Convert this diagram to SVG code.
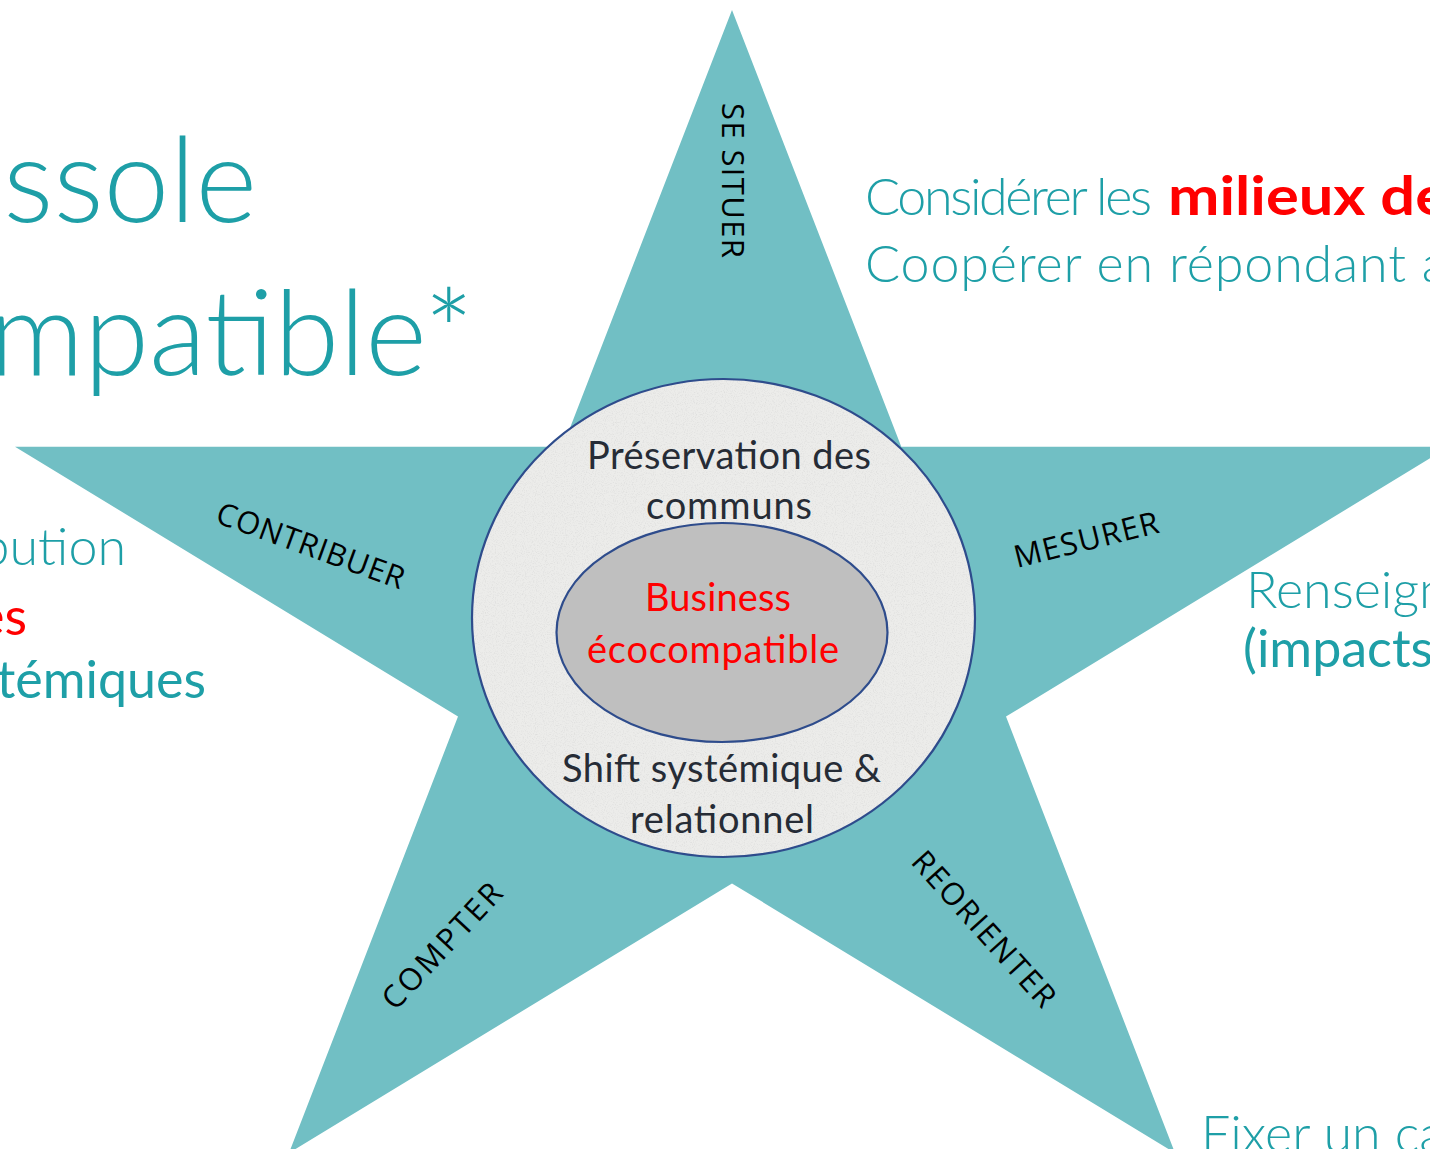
<svg xmlns="http://www.w3.org/2000/svg" width="1430" height="1149" viewBox="0 0 1430 1149">
  <style>
    .teal { fill: #1E9FA7; font-family: Lato, "Open Sans", "Liberation Sans", sans-serif; }
    .light { font-weight: 300; }
    .reg { font-weight: 400; }
    .bold { font-weight: 700; }
    .red { fill: #FF0000; }
    .title { font-size: 118px; }
    .body { font-size: 52px; }
    .arm { font-family: "Open Sans", "Noto Sans", "Liberation Sans", sans-serif; font-size: 31px; fill: #000000; text-anchor: middle; }
    .core { font-family: Lato, "Open Sans", "Liberation Sans", sans-serif; font-size: 38px; text-anchor: middle; }
    .dark { fill: #262C36; }
    .ring { stroke: #2E4C8C; stroke-width: 2.2; }
  </style>
  <defs>
    <filter id="grain" x="0" y="0" width="100%" height="100%">
      <feTurbulence type="fractalNoise" baseFrequency="0.9" numOctaves="2" seed="3" result="n"/>
      <feColorMatrix in="n" type="matrix" values="0 0 0 0 0.62  0 0 0 0 0.62  0 0 0 0 0.62  2 0 0 0 -0.95" result="g"/>
      <feComposite in="g" in2="SourceGraphic" operator="in"/>
    </filter>
  </defs>
  <rect width="1430" height="1149" fill="#FFFFFF"/>

  <g id="star">
    <polygon fill="#71BFC4" points="732,10 901.3,446.7 1449,446.7 1006,716.6 1175,1153 732,883.4 289,1153 458,716.6 15,446.7 562.7,446.7"/>
  </g>

  <g id="connectors"/>

  <g id="ring-communs">
    <ellipse cx="723.5" cy="618" rx="251.5" ry="239" fill="#ECECEA"/>
    <ellipse cx="723.5" cy="618" rx="251.5" ry="239" fill="#ffffff" filter="url(#grain)" opacity="0.55"/>
    <ellipse class="ring" cx="723.5" cy="618" rx="251.5" ry="239" fill="none"/>
    <text class="core dark" x="729" y="469" textLength="284" lengthAdjust="spacing">Préservation des</text>
    <text class="core dark" x="729" y="519" textLength="166" lengthAdjust="spacing">communs</text>
    <text class="core dark" x="721.5" y="782" textLength="319" lengthAdjust="spacing">Shift systémique &amp;</text>
    <text class="core dark" x="722" y="833" textLength="184" lengthAdjust="spacing">relationnel</text>
  </g>

  <g id="core-business">
    <ellipse class="ring" cx="722" cy="632.5" rx="165.5" ry="109.5" fill="#BFBFBF"/>
    <text class="core red" x="718" y="611" textLength="146" lengthAdjust="spacing">Business</text>
    <text class="core red" x="713" y="663" textLength="252" lengthAdjust="spacing">écocompatible</text>
  </g>

  <g id="arm-se-situer">
    <text class="arm" transform="translate(733.5,180.5) rotate(90)" y="11.5" textLength="155" lengthAdjust="spacing">SE SITUER</text>
  </g>
  <g id="arm-contribuer">
    <text class="arm" transform="translate(311,545) rotate(20)" y="11.5" textLength="198" lengthAdjust="spacing">CONTRIBUER</text>
  </g>
  <g id="arm-mesurer">
    <text class="arm" transform="translate(1086,539) rotate(-14)" y="11.5" textLength="148" lengthAdjust="spacing">MESURER</text>
  </g>
  <g id="arm-compter">
    <text class="arm" transform="translate(441.5,945.5) rotate(-47)" y="11.5" textLength="160" lengthAdjust="spacing">COMPTER</text>
  </g>
  <g id="arm-reorienter">
    <text class="arm" transform="translate(984.5,928.5) rotate(48)" y="11.5" textLength="198" lengthAdjust="spacing">REORIENTER</text>
  </g>

  <g id="title">
    <text class="teal light title" x="257" y="222" text-anchor="end">ssole</text>
    <text class="teal light title" x="474" y="375" text-anchor="end">mpatible*</text>
  </g>

  <g id="left-text">
    <text class="teal light body" x="126" y="565" text-anchor="end">bution</text>
    <text class="teal reg body red" x="27" y="635" text-anchor="end">es</text>
    <text class="teal reg body" x="206" y="698" text-anchor="end">témiques</text>
  </g>

  <g id="top-right-text">
    <text class="teal light body" x="865" y="215" textLength="287" lengthAdjust="spacing">Considérer les</text>
    <text class="teal bold red" x="1168" y="215" font-size="54" textLength="280" lengthAdjust="spacingAndGlyphs">milieux de</text>
    <text class="teal light body" x="865" y="282" textLength="582" lengthAdjust="spacing">Coopérer en répondant a</text>
  </g>

  <g id="right-text">
    <text class="teal light body" x="1246" y="608">Renseign</text>
    <text class="teal reg body" x="1243" y="667">(impacts</text>
  </g>

  <g id="bottom-right-text">
    <text class="teal light body" x="1201" y="1152">Fixer un ca</text>
  </g>
</svg>
